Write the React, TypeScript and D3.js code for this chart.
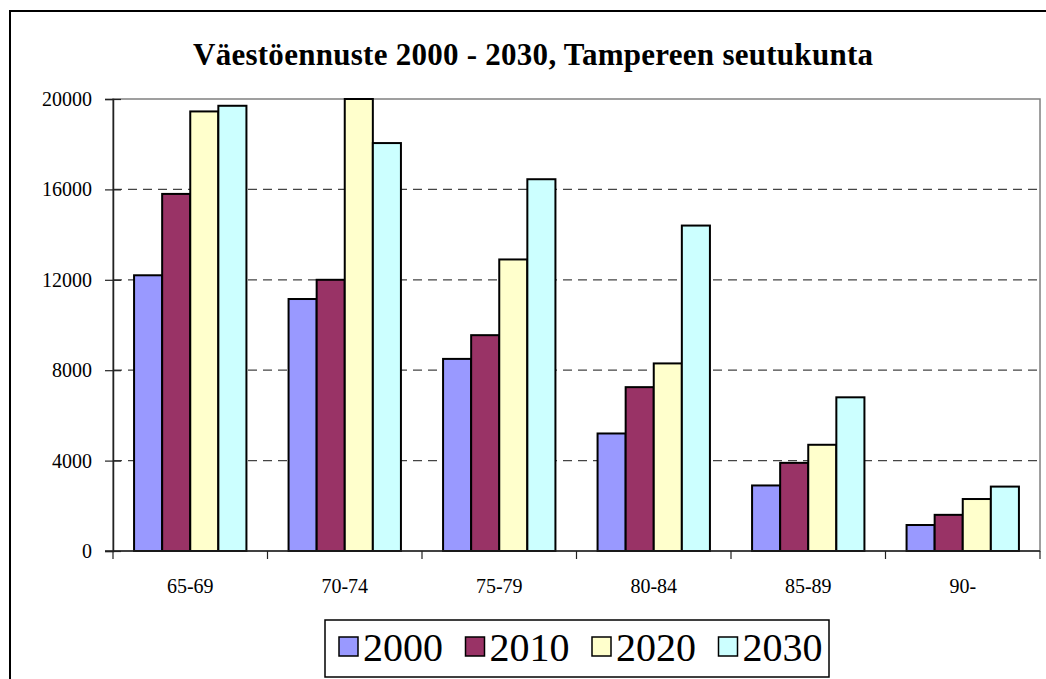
import React, { useEffect, useRef } from "react";
import * as d3 from "d3";

const ageGroups = ["65-69", "70-74", "75-79", "80-84", "85-89", "90-"];
const years = ["2000", "2010", "2020", "2030"];
const values2000 = [12200, 11150, 8500, 5200, 2900, 1150];
const values2010 = [15800, 12000, 9550, 7250, 3900, 1600];
const values2020 = [19450, 20000, 12900, 8300, 4700, 2300];
const values2030 = [19700, 18050, 16450, 14400, 6800, 2850];
const yTicks = [0, 4000, 8000, 12000, 16000, 20000];
const colors = ["#9999FF", "#993366", "#FFFFCC", "#CCFFFF"];

export default function App() {
  const ref = useRef<SVGSVGElement | null>(null);

  useEffect(() => {
    const width = 1046;
    const height = 679;
    const left = 113;
    const right = 1040;
    const top = 99;
    const bottom = 551;
    const font = "'Liberation Serif', 'Times New Roman', serif";

    const series = [values2000, values2010, values2020, values2030];
    const rows = ageGroups.map((g, i) => ({
      group: g,
      vals: series.map((s, k) => ({ year: years[k], value: s[i], k })),
    }));

    const svg = d3.select(ref.current);
    svg.selectAll("*").remove();
    svg.attr("width", width).attr("height", height);

    // chart frame (runs off the right/bottom edge)
    svg
      .append("rect")
      .attr("x", 10)
      .attr("y", 11)
      .attr("width", 1060)
      .attr("height", 700)
      .attr("fill", "white")
      .attr("stroke", "black")
      .attr("stroke-width", 2);

    svg
      .append("text")
      .attr("x", 193)
      .attr("y", 65)
      .attr("font-family", font)
      .attr("font-weight", "bold")
      .attr("font-size", 31)
      .attr("textLength", 680)
      .attr("lengthAdjust", "spacing")
      .text("Väestöennuste 2000 - 2030, Tampereen seutukunta");

    const x0 = d3
      .scaleBand()
      .domain(ageGroups)
      .range([left, right])
      .paddingInner(1.5 / 5.5)
      .paddingOuter(0.75 / 5.5);
    const x1 = d3.scaleBand().domain(years).range([0, x0.bandwidth()]);
    const y = d3.scaleLinear().domain([0, 20000]).range([bottom, top]);

    // plot area border
    svg
      .append("rect")
      .attr("x", left)
      .attr("y", top)
      .attr("width", right - left)
      .attr("height", bottom - top)
      .attr("fill", "none")
      .attr("stroke", "#808080")
      .attr("stroke-width", 1.5);

    // gridlines
    svg
      .append("g")
      .selectAll("line")
      .data(yTicks.filter((t) => t > 0 && t < 20000))
      .join("line")
      .attr("x1", left)
      .attr("x2", right)
      .attr("y1", (d) => y(d))
      .attr("y2", (d) => y(d))
      .attr("stroke", "#444")
      .attr("stroke-width", 1.2)
      .attr("stroke-dasharray", "9,6");

    // bars
    svg
      .append("g")
      .selectAll("g")
      .data(rows)
      .join("g")
      .attr("transform", (d) => `translate(${x0(d.group)},0)`)
      .selectAll("rect")
      .data((d) => d.vals)
      .join("rect")
      .attr("x", (d) => x1(d.year)!)
      .attr("y", (d) => y(d.value))
      .attr("width", x1.bandwidth())
      .attr("height", (d) => y(0) - y(d.value))
      .attr("fill", (d) => colors[d.k])
      .attr("stroke", "black")
      .attr("stroke-width", 2);

    // y axis
    const yAxis = svg
      .append("g")
      .attr("transform", `translate(${left},0)`)
      .call(d3.axisLeft(y).tickValues(yTicks).tickSize(8).tickPadding(5).tickFormat(d3.format("d")));
    yAxis.attr("font-family", font);
    yAxis.select(".domain").attr("stroke", "#222").attr("stroke-width", 1.5);
    yAxis.selectAll(".tick line").attr("x2", 8).attr("x1", -8).attr("stroke", "#222").attr("stroke-width", 1.2);
    yAxis
      .selectAll(".tick text")
      .attr("font-family", font)
      .attr("font-size", 20)
      .attr("fill", "black")
      .attr("x", -21);

    // x axis
    const bounds = [...ageGroups.map((g) => x0(g)! - (x0.step() * x0.paddingInner()) / 2), right];
    const xAxis = svg.append("g");
    xAxis
      .append("line")
      .attr("x1", left - 8)
      .attr("x2", right)
      .attr("y1", bottom)
      .attr("y2", bottom)
      .attr("stroke", "#222")
      .attr("stroke-width", 1.5);
    xAxis
      .selectAll("line.tk")
      .data(bounds)
      .join("line")
      .attr("class", "tk")
      .attr("x1", (d) => d)
      .attr("x2", (d) => d)
      .attr("y1", bottom)
      .attr("y2", bottom + 8)
      .attr("stroke", "#222")
      .attr("stroke-width", 1.2);
    xAxis
      .selectAll("text")
      .data(ageGroups)
      .join("text")
      .attr("x", (d) => x0(d)! + x0.bandwidth() / 2)
      .attr("y", 593)
      .attr("text-anchor", "middle")
      .attr("font-family", font)
      .attr("font-size", 20)
      .text((d) => d);

    // legend
    const legend = svg.append("g");
    legend
      .append("rect")
      .attr("x", 325)
      .attr("y", 620)
      .attr("width", 504)
      .attr("height", 57)
      .attr("fill", "white")
      .attr("stroke", "black")
      .attr("stroke-width", 1.5);
    const items = legend
      .selectAll("g")
      .data(years)
      .join("g")
      .attr("transform", (d, i) => `translate(${339 + i * 126.5},0)`);
    items
      .append("rect")
      .attr("x", 0)
      .attr("y", 637)
      .attr("width", 19)
      .attr("height", 19)
      .attr("fill", (d, i) => colors[i])
      .attr("stroke", "black")
      .attr("stroke-width", 1.5);
    items
      .append("text")
      .attr("x", 24)
      .attr("y", 661)
      .attr("font-family", font)
      .attr("font-size", 40)
      .text((d) => d);
  }, []);

  return <svg ref={ref} style={{ position: "absolute", left: 0, top: 0 }} />;
}
